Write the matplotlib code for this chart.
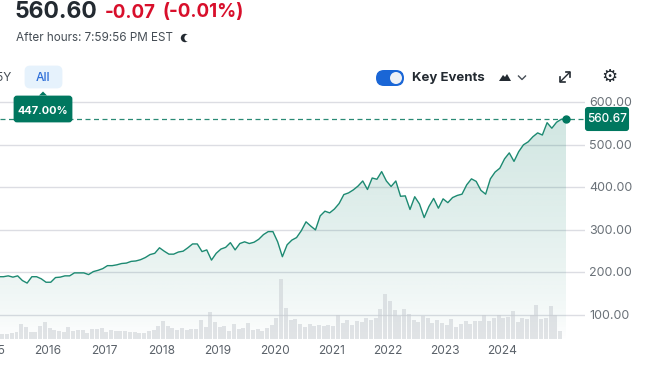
import matplotlib
matplotlib.use("Agg")
import matplotlib.pyplot as plt
from matplotlib.patches import FancyBboxPatch, Polygon, Circle
import numpy as np

plt.rcParams["font.family"] = ["Inter", "DejaVu Sans"]

# monthly close, oldest first (last point is the current price)
prices = [
    190, 190, 192, 189, 192, 181, 175, 190, 190, 185, 177,
    177, 188, 189, 192, 192, 199, 199, 199, 195, 202,
    205, 209, 216, 216, 218, 221, 222, 226, 227, 230,
    235, 242, 245, 258, 250, 243, 243, 248, 250, 258,
    267, 267, 249, 253, 229, 245, 255, 259, 270, 253,
    268, 272, 268, 271, 278, 289, 296, 296, 272, 237,
    265, 276, 282, 298, 319, 309, 300, 333, 344, 340, 349,
    362, 383, 387, 394, 403, 415, 395, 422, 419, 437,
    415, 402, 415, 379, 380, 348, 378, 361, 329, 355,
    374, 351, 373, 364, 376, 381, 384, 406, 420, 414,
    393, 384, 420, 436, 445, 467, 481, 461, 484, 500,
    507, 519, 528, 523, 552, 539, 553, 560, 560.67,
]
# monthly volume, relative units
volumes = [
    16, 16, 14, 18, 21, 44, 35, 20, 21, 38,
    50, 32, 28, 23, 20, 35, 23, 26, 26, 18,
    30, 30, 32, 20, 26, 23, 23, 23, 20, 20,
    18, 18, 23, 26, 38, 53, 38, 34, 26, 32,
    27, 29, 29, 56, 35, 80, 50, 35, 38, 23,
    44, 29, 32, 47, 26, 29, 23, 32, 41, 62,
    179, 92, 56, 59, 44, 35, 44, 38, 41, 38,
    41, 38, 71, 47, 56, 41, 53, 50, 62, 56,
    62, 89, 134, 113, 86, 68, 89, 74, 56, 50,
    68, 62, 47, 56, 47, 41, 59, 35, 44, 53,
    44, 53, 53, 71, 53, 62, 71, 62, 65, 83,
    50, 62, 59, 71, 101, 59, 62, 98, 71, 23,
]
years = [2015, 2016, 2017, 2018, 2019, 2020, 2021, 2022, 2023, 2024]
price_ticks = [100, 200, 300, 400, 500, 600]
current_price = 560.67

W, H = 650, 388
PX_PER_MONTH = 4.727
GREEN = "#00775f"
LINE = "#1d8a72"
GRID = "#dcdde3"
DARK = "#232a31"

fig = plt.figure(figsize=(6.5, 3.88), dpi=100)
fig.patch.set_facecolor("white")

# chart area, x 0-585 px, y 96-339 px
ax = fig.add_axes([0, 1 - 339 / H, 585 / W, 243 / H])
ax.set_axis_off()
last_x = 566
x_line = np.arange(len(prices)) - (len(prices) - 1)
y0 = 100 + (315 - 339) / 0.4255
y1 = 100 + (315 - 96) / 0.4255

for t in price_ticks:
    ax.axhline(t, color=GRID, lw=1, zorder=1)

# gradient under the line
grad = np.zeros((256, 2, 4))
grad[..., :3] = matplotlib.colors.to_rgb("#0f7f68")
grad[..., 3] = (0.2 * (1 - np.linspace(0, 1, 256)) ** 0.7)[:, None]
im = ax.imshow(grad, extent=[x_line[0], x_line[-1], y0, 600], aspect="auto", zorder=2, origin="upper")
poly = Polygon(np.column_stack([np.r_[x_line, x_line[-1], x_line[0]], np.r_[prices, y0, y0]]),
               transform=ax.transData, fc="none", ec="none")
ax.add_patch(poly)
im.set_clip_path(poly)
ax.set_xlim(-last_x / PX_PER_MONTH, (585 - last_x) / PX_PER_MONTH)
ax.set_ylim(y0, y1)

ax.plot(x_line, prices, color=LINE, lw=1.0, zorder=4)
ax.axhline(current_price, color="#2a8a75", lw=0.9, dashes=(4, 2.8), zorder=3)
ax.plot([x_line[-1]], [current_price], "o", color=GREEN, ms=5, zorder=5)

# volume bars, same x scale, last one a bit before the price point
ax_vol = ax.twinx()
ax_vol.set_axis_off()
ax_vol.set_ylim(0, 243)
x_bar = np.arange(len(volumes)) - (len(volumes) - 1) - 1.25
ax_vol.bar(x_bar, [v / 3 for v in volumes], width=0.84, color="#c9ced3", alpha=0.55, zorder=3)

# everything else in pixel coordinates
ui = fig.add_axes([0, 0, 1, 1])
ui.set_xlim(0, W)
ui.set_ylim(H, 0)
ui.set_axis_off()
ui.patch.set_alpha(0)


def px(size):
    return size * 0.72


# x axis labels
for y in years:
    ui.text(501.7 + (y - 2024) * 12 * PX_PER_MONTH, 350.5, str(y), ha="center",
            va="center", fontsize=px(12), color="#5b626a", clip_on=True)

# y axis labels
for t in price_ticks:
    ui.text(589, 315.8 - (t - 100) * 0.4255, f"{t:.2f}", ha="left", va="center", fontsize=px(12.5), color="#6a7178")

# header
ui.text(15, 18.5, "560.60", fontsize=px(23), fontweight="bold", color=DARK, ha="left", va="baseline")
ui.text(105, 17.5, "-0.07", fontsize=px(18.8), fontweight="bold", color="#d80f2b", ha="left", va="baseline")
ui.text(163, 17.5, "(-0.01%)", fontsize=px(18.8), fontweight="bold", color="#d80f2b", ha="left", va="baseline")
ui.text(15.5, 38, "After hours: 7:59:56 PM EST", fontsize=px(11.7), color="#464e56", ha="left", va="center")
ui.add_patch(Circle((185, 38), 4.2, fc=DARK, ec="none"))
ui.add_patch(Circle((188, 38), 3.6, fc="white", ec="none"))

# range buttons
ui.text(3.5, 78, "5Y", fontsize=px(12), color="#464e56", ha="center", va="center")
ui.add_patch(FancyBboxPatch((26, 67), 35, 20, boxstyle="round,pad=0,rounding_size=4", fc="#e6f2fc", ec="#e6f2fc", lw=2))
ui.text(43, 78, "All", fontsize=px(12), color="#2f6fd8", fontweight="medium", ha="center", va="center")

# change badge
ui.add_patch(Polygon([[39, 95.5], [43, 91.5], [47, 95.5]], fc=GREEN, ec="none", zorder=6))
ui.add_patch(FancyBboxPatch((15, 97), 56, 24, boxstyle="round,pad=0,rounding_size=2", fc=GREEN, ec=GREEN, lw=2, zorder=6))
ui.text(43.3, 110.5, "447.00%", fontsize=px(11), fontweight="bold", color="white", ha="center", va="center", zorder=7)

# price badge
ui.add_patch(FancyBboxPatch((586, 108), 42, 22, boxstyle="round,pad=0,rounding_size=2", fc=GREEN, ec=GREEN, lw=1.5, zorder=6))
ui.text(607.5, 119, "560.67", fontsize=px(11.8), fontweight="medium", color="white", ha="center", va="center", zorder=7)

# toggle
ui.add_patch(FancyBboxPatch((376, 70), 28, 16, boxstyle="round,pad=0,rounding_size=8", fc="#1a66d6", ec="none"))
ui.add_patch(Circle((396, 78), 6, fc="#eef1f6", ec="none"))
ui.text(412, 77.5, "Key Events", fontsize=px(13.2), fontweight="bold", color=DARK, ha="left", va="center")

# chart type icon
ui.add_patch(Polygon([[499, 81], [503, 75], [505, 77], [507, 74], [511, 81]], fc=DARK, ec="none"))
ui.plot([518.5, 522, 525.5], [76, 79.5, 76], color="#464e56", lw=1)

# expand icon
ui.plot([560.5, 569.5], [81.5, 72.5], color=DARK, lw=1)
ui.plot([560, 560, 564.5], [77, 82, 82], color=DARK, lw=1.2)
ui.plot([565.5, 570, 570], [72, 72, 77], color=DARK, lw=1.2)

# settings icon
ui.text(609.5, 77.5, "⚙", fontsize=px(18), color=DARK, ha="center", va="center", family="DejaVu Sans")

fig.savefig("out.png", dpi=100)
